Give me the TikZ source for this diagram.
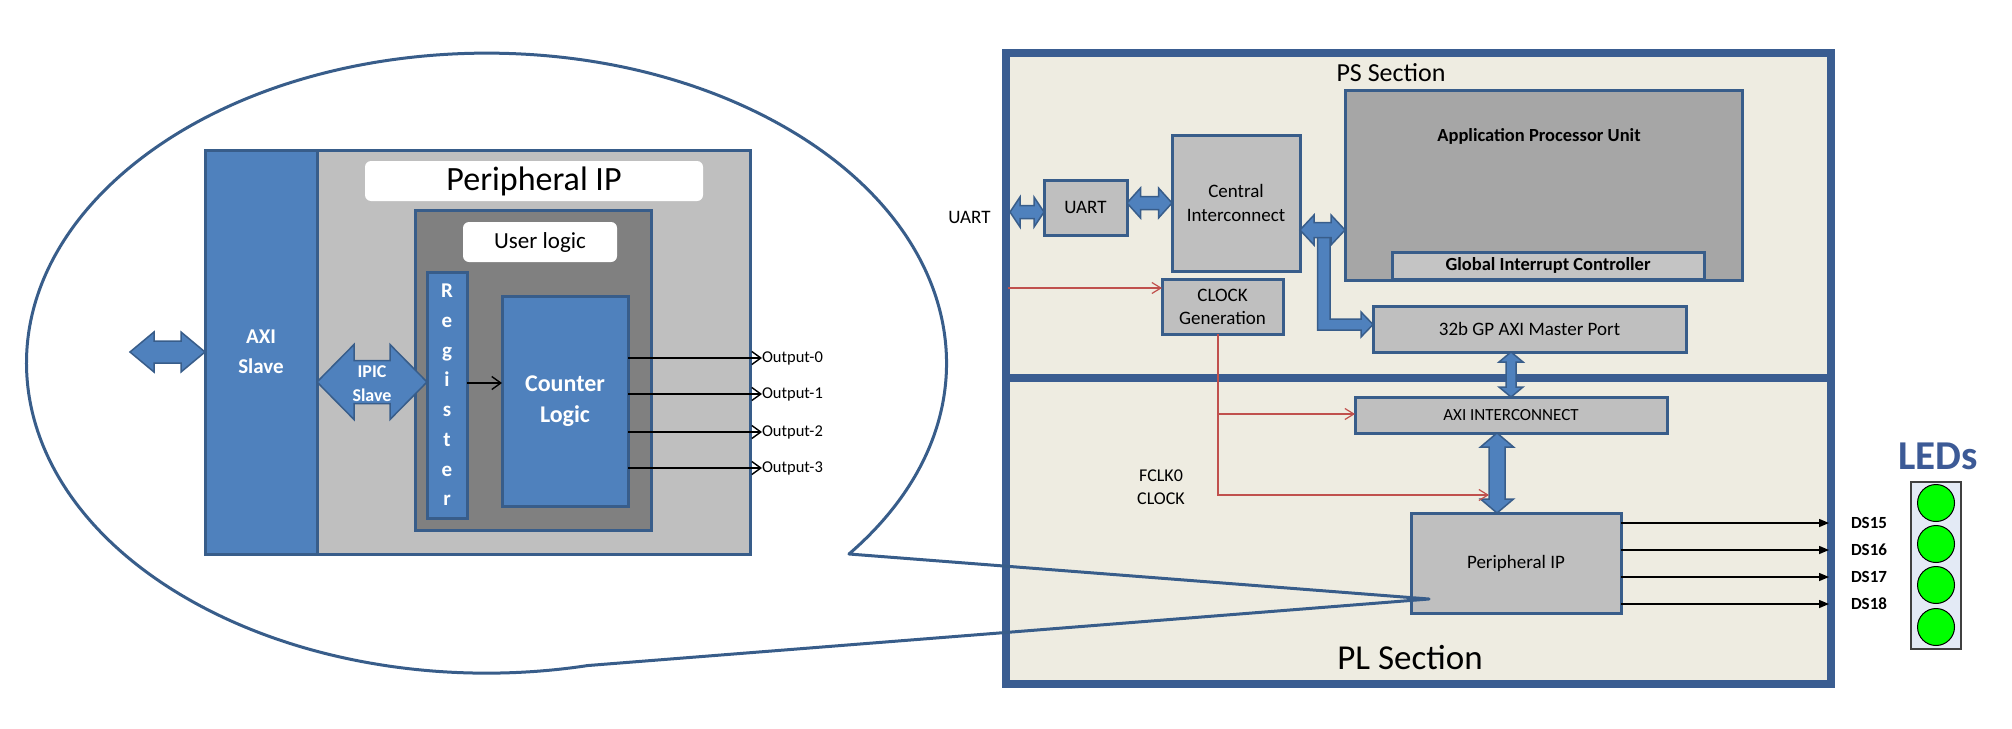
\documentclass[tikz,border=0pt]{standalone}
\usepackage{fontspec}
\setmainfont{Carlito}
\usetikzlibrary{arrows.meta,calc}
\definecolor{bfill}{HTML}{4F81BD}
\definecolor{bline}{HTML}{385D8A}
\definecolor{frame}{HTML}{3A5D91}
\definecolor{beige}{HTML}{EEECE1}
\definecolor{lgray}{HTML}{BFBFBF}
\definecolor{mgray}{HTML}{A6A6A6}
\definecolor{dgray}{HTML}{808080}
\definecolor{gicgray}{HTML}{C4C4C4}
\definecolor{clkred}{HTML}{C0504D}
\definecolor{ledblue}{HTML}{3C5A96}
\definecolor{panelbg}{HTML}{E3EAF5}
\definecolor{ledgreen}{HTML}{00FF00}
% horizontal double block arrow: #1 left tip, #2 right tip, #3 head half-height, #4 body half-height, #5 head length
\newcommand{\HArr}[5]{%
  \filldraw[barrow] let \p1=(#1), \p2=(#2), \n1={\x2-\x1-2*#5} in
  (\p1) -- ++(#5,-#3) -- ++(0,#3-#4) -- ++(\n1,0) -- ++(0,#4-#3) -- ++(#5,#3)
  -- ++(-#5,#3) -- ++(0,#4-#3) -- ++(-\n1,0) -- ++(0,#3-#4) -- cycle;}
% vertical double block arrow: #1 top tip, #2 bottom tip
\newcommand{\VArr}[5]{%
  \filldraw[barrow] let \p1=(#1), \p2=(#2), \n1={\y1-\y2-2*#5} in
  (\p1) -- ++(-#3,#5) -- ++(#3-#4,0) -- ++(0,-\n1) -- ++(#4-#3,0) -- ++(#3,#5)
  -- ++(#3,-#5) -- ++(#4-#3,0) -- ++(0,\n1) -- ++(#3-#4,0) -- cycle;}
\tikzset{
  every node/.append style={outer sep=0, inner sep=0},
  blk/.style={draw=bline, line width=3, fill=bfill, text=white, align=center},
  gbox/.style={draw=bline, line width=3, fill=lgray, align=center},
  wlabel/.style={fill=white, rounded corners=6, align=center},
  sect/.style={draw=frame, line width=8, fill=beige},
  barrow/.style={fill=bfill, draw=bline, line width=1.5, line join=miter},
  outarr/.style={draw=black, line width=1.4, -{Straight Barb[length=9pt,width=13pt]}},
  clkline/.style={draw=clkred, line width=1.2, -{Straight Barb[length=9pt,width=11pt]}},
  plarr/.style={draw=black, line width=1.4, -{Triangle[length=10pt,width=8pt]}},
  callout/.style={draw=bline, line width=3, line join=round}
}
\begin{document}
\begin{tikzpicture}[x=1pt,y=-1pt]
\useasboundingbox (0,0) rectangle (2012,728);
\fill[white] (0,0) rectangle (2012,728);

% ---------------- detail of the peripheral IP ----------------
\node[draw=bline, line width=3, fill=lgray, minimum width=545, minimum height=404] (pout) at (477.5,352) {};
\node[blk, minimum width=112, minimum height=404, font=\bfseries\fontsize{21}{30}\selectfont] (axi) at (261,352) {AXI\\Slave};
\node[wlabel, minimum width=338, minimum height=40, font=\fontsize{34}{40}\selectfont] (ptitle) at (534,181) {Peripheral IP};
\node[draw=bline, line width=3, fill=dgray, minimum width=236, minimum height=320] (ulc) at (533,370) {};
\node[wlabel, minimum width=154, minimum height=40, font=\fontsize{23}{28}\selectfont] (ultitle) at (540,242) {User logic};
\node[blk, minimum width=40, minimum height=246, font=\bfseries\fontsize{21}{29.7}\selectfont] (reg) at (447,395) {R\\e\\g\\i\\s\\t\\e\\r};
\node[blk, minimum width=126, minimum height=210, font=\bfseries\fontsize{24}{31}\selectfont] (cl) at (565,401) {Counter\\Logic};

\coordinate (axiext) at (130,352);
\HArr{axiext}{axi.west}{20}{11}{24}
\HArr{axi.east |- 0,382}{reg.west |- 0,382}{37.5}{21.5}{37}
\node[font=\bfseries\fontsize{18}{24}\selectfont, text=white, align=center] (ipic) at (372,384) {IPIC\\Slave};

\draw[outarr] (reg.east |- 0,383) -- (cl.west |- 0,383);
\foreach \i/\y in {0/358,1/394,2/432,3/468} {
  \node[anchor=west, font=\fontsize{16.5}{20}\selectfont] (o\i) at (762,\y) {Output-\i};
  \draw[outarr] (cl.east |- o\i.west) -- (o\i.west);
}

% ---------------- PS / PL sections ----------------
\node[sect, minimum width=825, minimum height=325] (ps) at (1418.5,215.5) {};
\node[sect, minimum width=825, minimum height=306] (pl) at (1418.5,531) {};
\node[font=\fontsize{26}{30}\selectfont] (pstxt) at (1391,73) {PS Section};
\node[font=\fontsize{35}{40}\selectfont] (pltxt) at (1410,658) {PL Section};

\node[gbox, fill=mgray, minimum width=397, minimum height=190] (apu) at (1543.5,185) {};
\node[font=\bfseries\fontsize{18.5}{22}\selectfont] (aputxt) at (1539,136) {Application Processor Unit};
\node[gbox, fill=gicgray, minimum width=312, minimum height=27, font=\bfseries\fontsize{18.5}{22}\selectfont] (gic) at (1548,265.5) {Global Interrupt Controller};
\node[gbox, minimum width=83, minimum height=55, font=\fontsize{19}{23}\selectfont] (uart) at (1085.5,207.5) {UART};
\node[gbox, minimum width=128, minimum height=136, font=\fontsize{19}{24}\selectfont] (ci) at (1236,203) {Central\\Interconnect};
\node[gbox, minimum width=121, minimum height=55, font=\fontsize{19}{23}\selectfont] (clk) at (1222.5,306.5) {CLOCK\\Generation};
\node[gbox, minimum width=313, minimum height=46, font=\fontsize{19}{23}\selectfont] (gp) at (1529.5,329) {32b GP AXI Master Port};
\node[gbox, minimum width=312, minimum height=36, font=\fontsize{17}{20}\selectfont] (axiic) at (1511,415) {AXI INTERCONNECT};
\node[gbox, minimum width=210, minimum height=100, font=\fontsize{19}{23}\selectfont] (pip) at (1516,563) {Peripheral IP};
\node[font=\fontsize{19}{23}\selectfont] (uartlbl) at (969.5,217) {UART};
\node[font=\fontsize{18}{23}\selectfont, align=center] (fclk) at (1161,487.5) {FCLK0\\CLOCK};

% block arrows
\coordinate (uartext) at (1010,212);
\HArr{uartext}{uart.west |- 0,212}{15}{6.5}{10}
\HArr{uart.east |- 0,203}{ci.west |- 0,203}{15}{6.5}{13.5}
\coordinate (gptip) at (gp.west |- 0,324.5);
\filldraw[barrow] (gptip) -- ++(-12,-12.5) -- ++(0,7) -- ++(-31,0) -- ++(0,-82) -- ++(-12.5,0)
  -- ++(0,93) -- ++(43.5,0) -- ++(0,7) -- cycle;
\HArr{ci.east |- 0,230}{apu.west |- 0,230}{15}{7.5}{14}
\VArr{gp.south -| axiic.north}{axiic.north}{12}{5}{10}
\VArr{axiic.south -| 1497,0}{pip.north -| 1497,0}{16.5}{8}{14}

% clock lines
\coordinate (clkin) at (1008,288);
\draw[clkline] (clkin) -- (clk.west |- clkin);
\coordinate (clkdown) at (1218,495);
\coordinate (pipclk) at (1489,495);
\draw[clkline] (clk.south -| clkdown) -- (clkdown) -- (pipclk);
\draw[clkline] (clkdown |- 0,414) -- (axiic.west |- 0,414);

% outputs to LEDs
\foreach \y/\n in {523/15,550/16,577/17,604/18} {
  \node[anchor=west, font=\bfseries\fontsize{17}{20}\selectfont] (ds\n) at (1851,\y) {DS\n};
  \coordinate (dsend\n) at (1829,\y);
  \draw[plarr] (pip.east |- dsend\n) -- (dsend\n);
}

% LEDs
\node[font=\bfseries\fontsize{41}{44}\selectfont, text=ledblue] (ledtxt) at (1938,456) {LEDs};
\node[draw=black!75, line width=1.5, fill=panelbg, minimum width=50, minimum height=167] (panel) at (1936,565.5) {};
\foreach \i/\y in {1/503,2/544,3/585,4/627}
  \node[circle, draw=black, line width=1, fill=ledgreen, minimum size=37] (led\i) at (1936,\y) {};

% callout
\coordinate (tail) at (1429,599);
\draw[callout] (849,554) arc[start angle=-38, end angle=282.7, x radius=460pt, y radius=310pt] -- (tail) -- cycle;
\end{tikzpicture}
\end{document}
